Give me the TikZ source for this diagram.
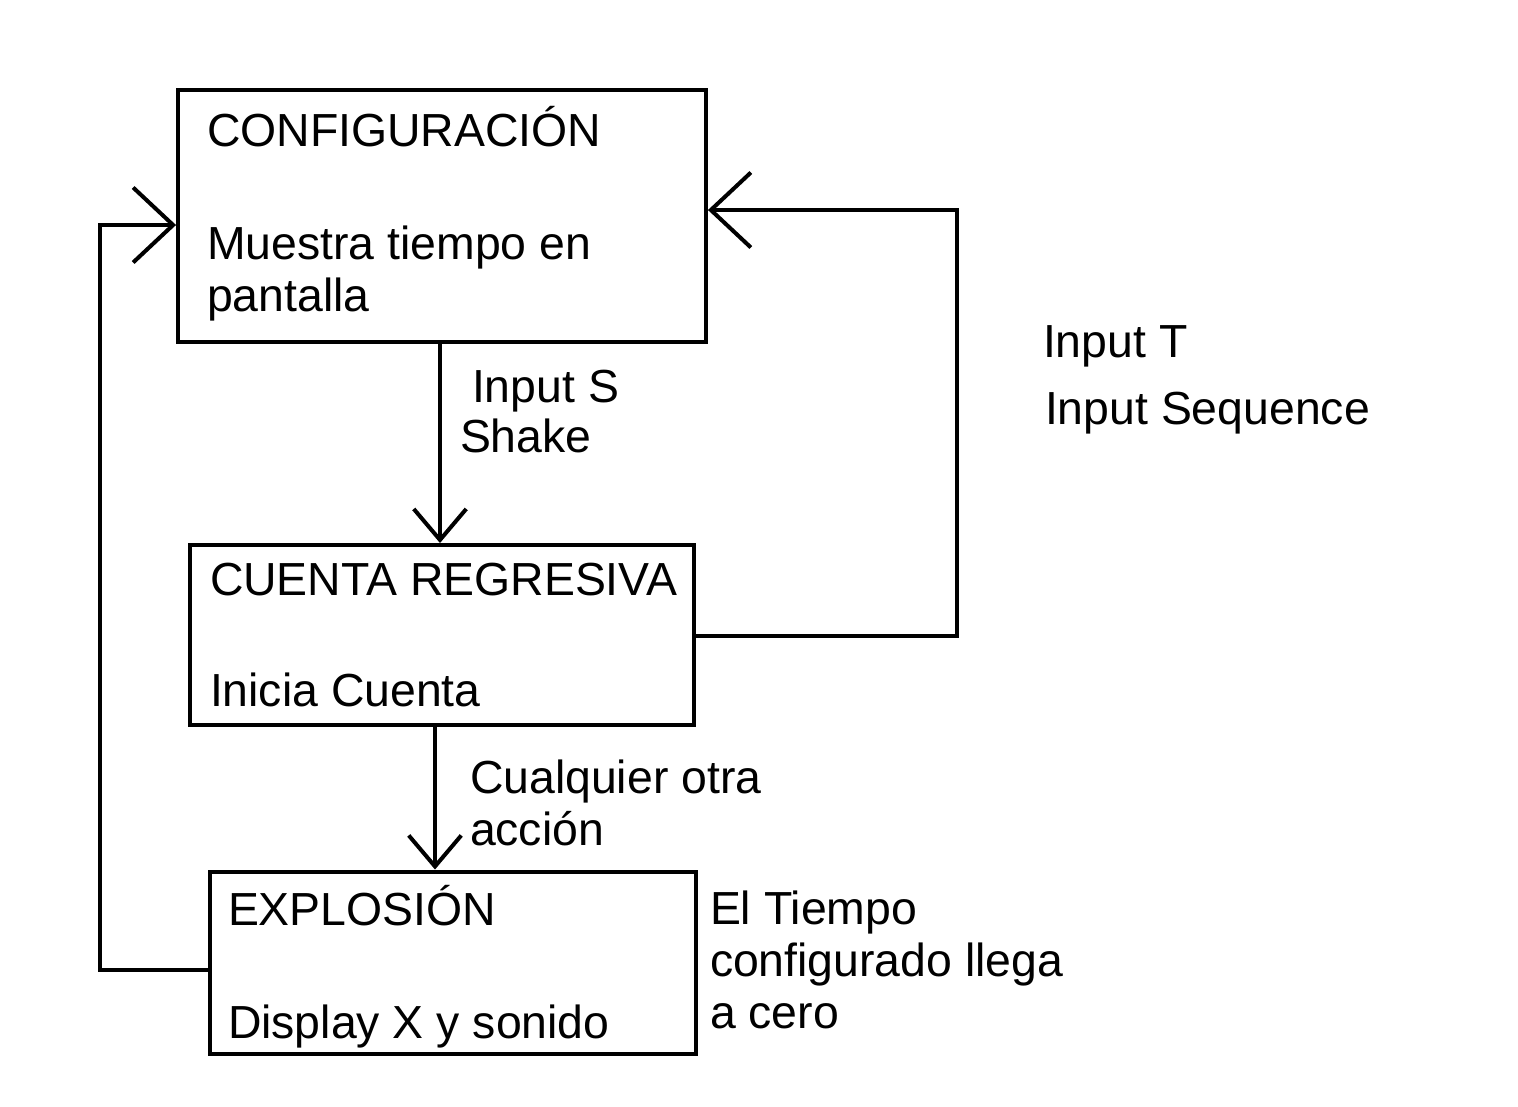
\documentclass[tikz,border=0pt]{standalone}
\usepackage{fontspec}
\setmainfont{Liberation Sans}
\usetikzlibrary{arrows.meta}

\begin{document}
\begin{tikzpicture}[x=0.02cm,y=-0.02cm,line width=0.08cm,
    box/.style={draw=black,rectangle,inner sep=0pt},
    txt/.style={anchor=base west,inner sep=0pt,align=left,font=\fontsize{26.4}{29.6}\selectfont},
    arr/.style={-{Straight Barb[length=0.62cm,width=1.05cm]}},
    looparr/.style={-{Straight Barb[length=0.8cm,width=1.5cm]}}]
            \useasboundingbox (0,0) rectangle (1518,1106);
            \begin{scope}[every node/.style={box}]
                \node[minimum width=10.56cm,minimum height=5.04cm] (conf) at (442,216) {};
                \node[minimum width=10.08cm,minimum height=3.6cm] (cuenta) at (442,635) {};
                \node[minimum width=9.72cm,minimum height=3.66cm] (expl) at (453,963) {};
            \end{scope}
            % multi-line labels sit on their last baseline
            \node[txt] (conftitle) at (205,146) {CONFIGURACIÓN};
            \node[txt] (confdesc) at (205,311) {Muestra tiempo en\\pantalla};
            \node[txt] (cuentatitle) at (208,595) {CUENTA REGRESIVA};
            \node[txt] (cuentadesc) at (208,706) {Inicia Cuenta};
            \node[txt] (expltitle) at (226,925) {EXPLOSIÓN};
            \node[txt] (expldesc) at (226,1038) {Display X y sonido};
            \node[txt] (inputs) at (470,402) {Input S};
            \node[txt] (shake) at (458,452) {Shake};
            \node[txt] (inputt) at (1041,357) {Input T};
            \node[txt] (inputseq) at (1043,424) {Input Sequence};
            \node[txt] (otra) at (468,845) {Cualquier otra\\acción};
            \node[txt] (cero) at (708,1028) {El Tiempo\\configurado llega\\a cero};
            % corners of the two loops
            \coordinate (rtop) at (957,210);
            \coordinate (rbot) at (957,636);
            \coordinate (ltop) at (100,225);
            \coordinate (lbot) at (100,970);
            \draw[arr] (conf.south -| 440,0) -- (cuenta.north -| 440,0);
            \draw[arr] (cuenta.south -| 435,0) -- (expl.north -| 435,0);
            \draw[looparr] (cuenta.east |- rbot) -- (rbot) -- (rtop) -- (conf.east |- rtop);
            \draw[looparr] (expl.west |- lbot) -- (lbot) -- (ltop) -- (conf.west |- ltop);
        \end{tikzpicture}
\end{document}
